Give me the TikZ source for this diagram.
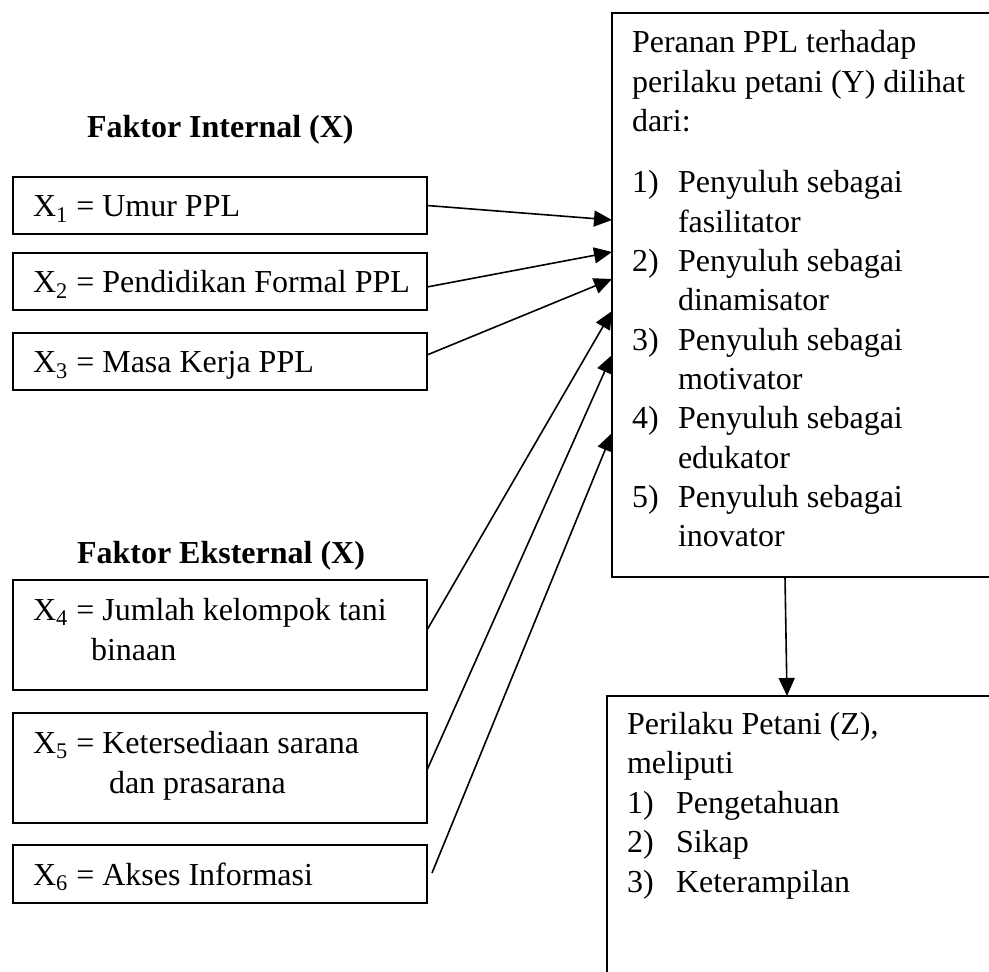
\documentclass[tikz,border=0pt]{standalone}
\usepackage{fontspec}
\setmainfont{Liberation Serif}
\usetikzlibrary{arrows.meta}
\begin{document}
\begin{tikzpicture}[x=0.5pt,y=-0.5pt,
  box/.style={draw, line width=0.6pt, inner sep=0pt, outer sep=0pt, anchor=north west},
  txt/.style={inner sep=0pt, outer sep=0pt, anchor=base west, font=\fontsize{16}{19.65}\selectfont},
  hd/.style={inner sep=0pt, outer sep=0pt, anchor=base west, font=\fontsize{16}{19.65}\selectfont\bfseries},
  arr/.style={-{Triangle[length=9pt,width=8pt]}, line width=0.8pt}]
\useasboundingbox (0,0) rectangle (989,972);
\clip (0,0) rectangle (989,972);

% headings
\node[hd] (fi) at (87,138) {Faktor Internal (X)};
\node[hd] (fe) at (77,563) {Faktor Eksternal (X)};

% left boxes
\node[box, minimum width=207pt, minimum height=28.5pt] (X1) at (13,177) {};
\node[box, minimum width=207pt, minimum height=28.5pt] (X2) at (13,253) {};
\node[box, minimum width=207pt, minimum height=28.5pt] (X3) at (13,333) {};
\node[box, minimum width=207pt, minimum height=55pt] (X4) at (13,580) {};
\node[box, minimum width=207pt, minimum height=55pt] (X5) at (13,713) {};
\node[box, minimum width=207pt, minimum height=29pt] (X6) at (13,845) {};

\node[txt] (t1) at (33,217) {X\textsubscript{1} = Umur PPL};
\node[txt] (t2) at (33,293) {X\textsubscript{2} = Pendidikan Formal PPL};
\node[txt] (t3) at (33,373) {X\textsubscript{3} = Masa Kerja PPL};
\node[txt] (t4a) at (33,620) {X\textsubscript{4} = Jumlah kelompok tani};
\node[txt] (t4b) at (91,660) {binaan};
\node[txt] (t5a) at (33,753) {X\textsubscript{5} = Ketersediaan sarana};
\node[txt] (t5b) at (109,793) {dan prasarana};
\node[txt] (t6) at (33,885) {X\textsubscript{6} = Akses Informasi};

% right boxes (their right sides and the lower box's bottom lie beyond the page)
\node[box, minimum width=260pt, minimum height=282pt] (Y) at (612,13) {};
\node[box, minimum width=260pt, minimum height=180pt] (Z) at (607,696) {};

% Y text
\node[txt] (y0a) at (632,53) {Peranan PPL terhadap};
\node[txt] (y0b) at (632,92.3) {perilaku petani (Y) dilihat};
\node[txt] (y0c) at (632,131.6) {dari:};
\node[txt] (n1) at (632,193) {1)};
\node[txt] (y1a) at (678,193) {Penyuluh sebagai};
\node[txt] (y1b) at (678,232.3) {fasilitator};
\node[txt] (n2) at (632,271.6) {2)};
\node[txt] (y2a) at (678,271.6) {Penyuluh sebagai};
\node[txt] (y2b) at (678,310.9) {dinamisator};
\node[txt] (n3) at (632,350.2) {3)};
\node[txt] (y3a) at (678,350.2) {Penyuluh sebagai};
\node[txt] (y3b) at (678,389.5) {motivator};
\node[txt] (n4) at (632,428.8) {4)};
\node[txt] (y4a) at (678,428.8) {Penyuluh sebagai};
\node[txt] (y4b) at (678,468.1) {edukator};
\node[txt] (n5) at (632,507.4) {5)};
\node[txt] (y5a) at (678,507.4) {Penyuluh sebagai};
\node[txt] (y5b) at (678,546.7) {inovator};

% Z text
\node[txt] (z0a) at (627,734) {Perilaku Petani (Z),};
\node[txt] (z0b) at (627,773.5) {meliputi};
\node[txt] (m1) at (627,813) {1)};
\node[txt] (z1) at (676,813) {Pengetahuan};
\node[txt] (m2) at (627,852.5) {2)};
\node[txt] (z2) at (676,852.5) {Sikap};
\node[txt] (m3) at (627,892) {3)};
\node[txt] (z3) at (676,892) {Keterampilan};

% connectors
\draw[arr] (X1.east) -- ([yshift=-103.5pt]Y.north west);
\draw[arr] ([yshift=-2.75pt]X2.east) -- ([yshift=-119.5pt]Y.north west);
\draw[arr] ([yshift=3.25pt]X3.east) -- ([yshift=-133pt]Y.north west);
\draw[arr] ([yshift=2.5pt]X4.east) -- ([yshift=-149pt]Y.north west);
\draw[arr] ([yshift=-1pt]X5.east) -- ([yshift=-171pt]Y.north west);
\draw[arr] ([xshift=2.5pt,yshift=0.5pt]X6.east) -- ([yshift=-210pt]Y.north west);
\draw[arr] ([xshift=86.5pt]Y.south west) -- ([xshift=90pt]Z.north west);
\end{tikzpicture}
\end{document}
